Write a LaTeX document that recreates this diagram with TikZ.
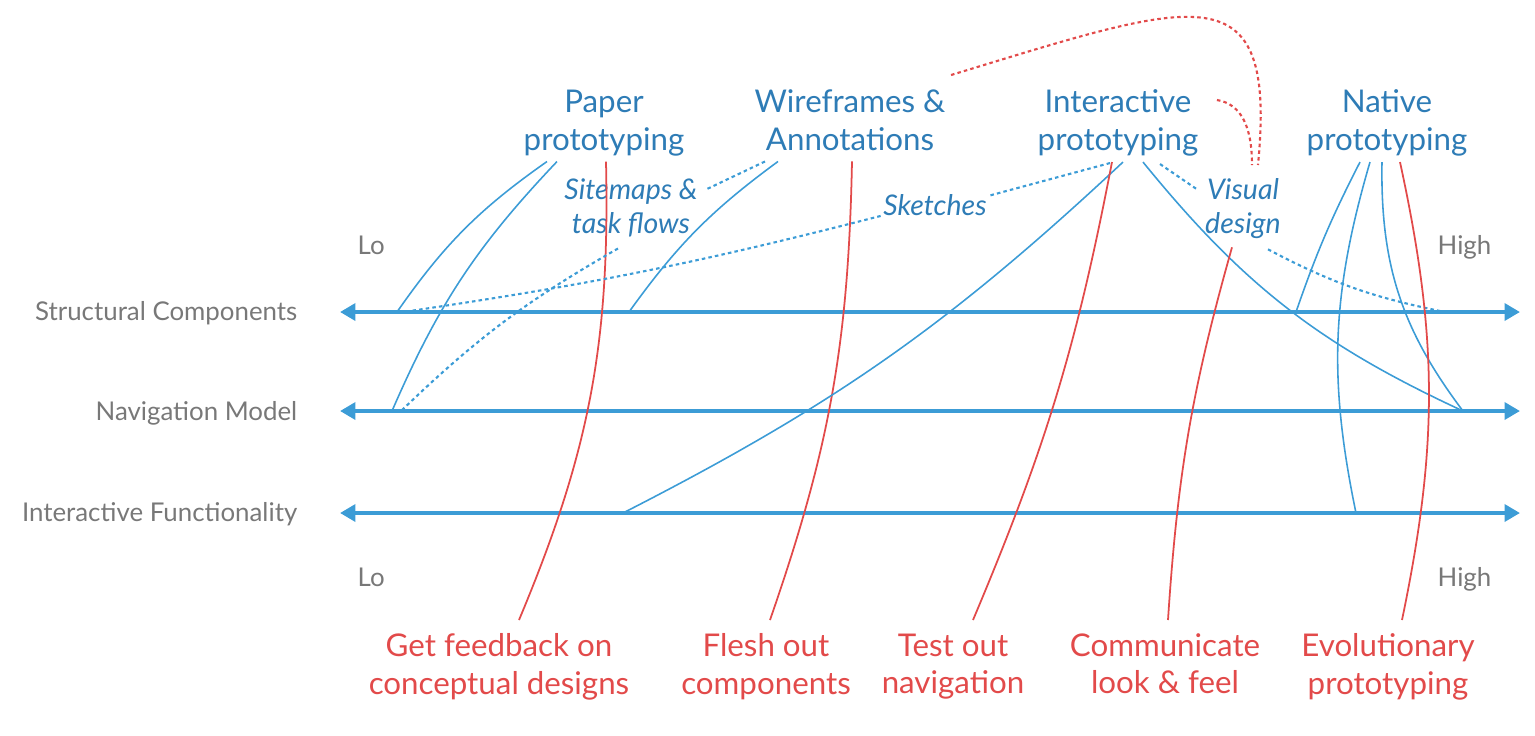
\documentclass[tikz,border=0pt]{standalone}
\usepackage{fontspec}
\setmainfont{Lato}
\usetikzlibrary{arrows.meta,calc}

\definecolor{azul}{RGB}{46,124,182}
\definecolor{azulclaro}{RGB}{60,156,214}
\definecolor{rojo}{RGB}{226,74,74}
\definecolor{gris}{RGB}{120,120,120}

\begin{document}
\begin{tikzpicture}[x=0.01cm,y=-0.01cm,
  tecnica/.style={font=\fontsize{8.9}{10.8}\selectfont,text=azul,align=center,inner sep=0pt,anchor=north},
  nota/.style={font=\fontsize{8.1}{9.6}\selectfont\itshape,text=azul,align=center,inner sep=0pt},
  meta/.style={font=\fontsize{8.9}{10.6}\selectfont,text=rojo,align=center,inner sep=0pt,anchor=north},
  eje/.style={font=\fontsize{7.35}{8.6}\selectfont,text=gris,inner sep=0pt},
  flecha/.style={azulclaro,line width=1.2pt,{Triangle[length=4.4pt,width=4.8pt]}-{Triangle[length=4.4pt,width=4.8pt]}},
  enlace/.style={azulclaro,line width=0.45pt},
  punteado/.style={azulclaro,line width=0.6pt,dash pattern=on 1pt off 0.9pt},
  rojo linea/.style={rojo,line width=0.5pt},
  rojo punteado/.style={rojo,line width=0.6pt,dash pattern=on 1pt off 0.9pt}]
  \useasboundingbox (0,0) rectangle (1535,735);
  % ejes
  \coordinate (sL) at (340,312); \coordinate (sR) at (1520,312);
  \coordinate (nL) at (340,411); \coordinate (nR) at (1520,411);
  \coordinate (iL) at (340,513); \coordinate (iR) at (1520,513);
  \draw[flecha] (sL) -- (sR);
  \draw[flecha] (nL) -- (nR);
  \draw[flecha] (iL) -- (iR);
  \node[eje,anchor=base east] (scomp) at (298,320) {Structural Components};
  \node[eje,anchor=base east] (nmod) at (298,420) {Navigation Model};
  \node[eje,anchor=base east] (ifun) at (298,521) {Interactive Functionality};
  \node[eje,anchor=base west] (lo1) at (357,254) {Lo};
  \node[eje,anchor=base west] (lo2) at (357,586) {Lo};
  \node[eje,anchor=base west] (hi1) at (1437,254) {High};
  \node[eje,anchor=base west] (hi2) at (1437,586) {High};
  % puntos de llegada sobre los ejes
  \coordinate (s1) at (397,312); \coordinate (s2) at (410,311);
  \coordinate (s3) at (629,312); \coordinate (s4) at (1296,312);
  \coordinate (s5) at (1440,311);
  \coordinate (n1) at (392,411); \coordinate (n2) at (402,410);
  \coordinate (n3) at (1463,411);
  \coordinate (i1) at (623,513); \coordinate (i2) at (1356,513);
  % tecnicas (arriba)
  \node[tecnica] (paper) at (604,89) {Paper\\prototyping};
  \node[tecnica] (wire) at (850,89) {Wireframes \&\\Annotations};
  \node[tecnica] (inter) at (1118,89) {Interactive\\prototyping};
  \node[tecnica] (native) at (1387,89) {Native\\prototyping};
  \node[nota,anchor=north] (sitemap) at (631,178) {Sitemaps \&\\task flows};
  \node[nota,anchor=base] (sketch) at (935,215) {Sketches};
  \node[nota,anchor=north] (visual) at (1243,178) {Visual\\design};
  % objetivos (abajo)
  \node[meta] (feedback) at (499,633) {Get feedback on\\conceptual designs};
  \node[meta] (flesh) at (766,633) {Flesh out\\components};
  \node[meta] (testnav) at (953,633) {Test out\\navigation};
  \node[meta] (lookfeel) at (1165,633) {Communicate\\look \& feel};
  \node[meta] (evol) at (1388,633) {Evolutionary\\prototyping};
  % paper
  \draw[enlace] ($(paper.south)+(-57,5)$) to[bend right=10] (s1);
  \draw[enlace] ($(paper.south)+(-47,5)$) to[bend right=10] (n1);
  \draw[rojo linea] ($(paper.south)+(2,5)$) to[bend left=12] ($(feedback.north)+(20,-13)$);
  % wireframes
  \draw[enlace] ($(wire.south)+(-72,10)$) to[bend right=9] (s3);
  \draw[punteado] ($(wire.south)+(-85,10)$) -- ($(sitemap.north)+(76,11)$);
  \draw[punteado] ($(sitemap.south)+(-13,11)$) to[bend right=7] (n2);
  \draw[rojo linea] ($(wire.south)+(2,10)$) to[bend left=9] ($(flesh.north)+(4,-13)$);
  % interactive
  \draw[punteado] ($(inter.south)+(-8,6)$) -- ($(sketch.north east)+(3,2)$);
  \draw[punteado] ($(sketch.south west)+(-2,0)$) to[bend left=3] (s2);
  \draw[enlace] ($(inter.south)+(5,5)$) to[bend left=8] (i1);
  \draw[rojo linea] ($(inter.south)+(-6,5)$) to[bend left=6] ($(testnav.north)+(20,-13)$);
  \draw[enlace] ($(inter.south)+(25,5)$) to[bend right=13] (n3);
  \draw[punteado] ($(inter.south)+(42,7)$) -- ($(visual.north west)+(-8,11)$);
  \draw[punteado] ($(visual.south)+(25,10)$) to[bend right=8] (s5);
  \draw[rojo linea] ($(visual.south)+(-11,8)$) to[bend right=6] ($(lookfeel.north)+(3,-13)$);
  % native
  \draw[enlace] ($(native.south)+(-27,5)$) to[bend right=4] (s4);
  \draw[enlace] ($(native.south)+(-17,5)$) to[bend right=14] (i2);
  \draw[enlace] ($(native.south)+(-5,5)$) to[bend right=19] (n3);
  \draw[rojo linea] ($(native.south)+(13,5)$) to[bend left=12] ($(evol.north)+(14,-13)$);
  % visual design, punteado rojo
  \draw[rojo punteado] ($(wire.north east)+(5,-14)$) .. controls (1198,0) and (1277,-32) .. ($(visual.north)+(15,-13)$);
  \draw[rojo punteado] ($(inter.north east)+(18,11)$) .. controls (1242,104) and (1252,128) .. ($(visual.north)+(9,-13)$);
\end{tikzpicture}
\end{document}
